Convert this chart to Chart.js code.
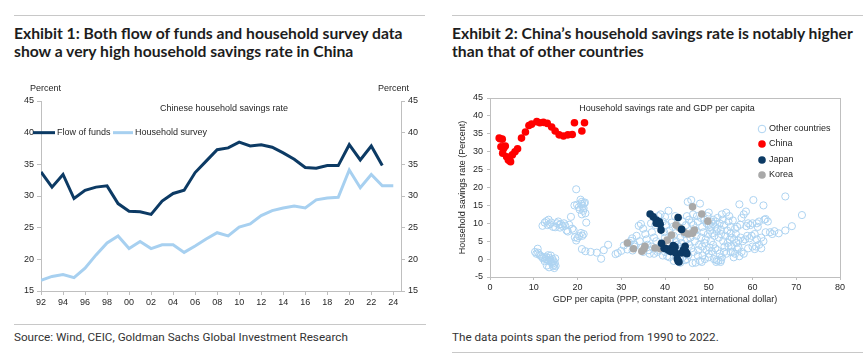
<!DOCTYPE html>
<html><head><meta charset="utf-8">
<script src="https://cdn.jsdelivr.net/npm/chart.js@4.4.1/dist/chart.umd.min.js"></script>
<style>
html,body{margin:0;padding:0;background:#fff;width:867px;height:362px;overflow:hidden;}
.rule{position:absolute;height:1px;background:#c8c8c8;}
.title{position:absolute;font-family:Lato,sans-serif;font-weight:700;font-size:15.7px;line-height:18px;color:#1d1d1d;white-space:nowrap;}
.note{position:absolute;font-family:Roboto,sans-serif;font-size:11.7px;color:#333;white-space:nowrap;}
.box{position:absolute;}
</style></head>
<body>
<div class="rule" style="left:14px;top:15px;width:411px"></div>
<div class="rule" style="left:452px;top:15px;width:411px"></div>
<div class="title" style="left:14px;top:24px">Exhibit 1: Both flow of funds and household survey data<br>show a very high household savings rate in China</div>
<div class="title" style="left:452px;top:24px">Exhibit 2: China’s household savings rate is notably higher<br>than that of other countries</div>
<div class="box" style="left:0;top:80px;width:430px;height:230px"><canvas id="c1" width="430" height="230"></canvas></div>
<div class="box" style="left:440px;top:80px;width:427px;height:230px"><canvas id="c2" width="427" height="230"></canvas></div>
<div class="rule" style="left:14px;top:324px;width:412px"></div>
<div class="note" style="left:14px;top:330px">Source: Wind, CEIC, Goldman Sachs Global Investment Research</div>
<div class="note" style="left:452px;top:330px">The data points span the period from 1990 to 2022.</div>
<div class="rule" style="left:452px;top:352px;width:411px"></div>
<script>
// ---------- Exhibit 1 data ----------
const years = [1992,1993,1994,1995,1996,1997,1998,1999,2000,2001,2002,2003,2004,2005,2006,2007,2008,2009,2010,2011,2012,2013,2014,2015,2016,2017,2018,2019,2020,2021,2022,2023,2024];
const flowOfFunds = [33.8,31.4,33.4,29.6,30.9,31.4,31.6,28.8,27.6,27.5,27.1,29.2,30.4,30.9,33.7,35.5,37.3,37.6,38.5,37.9,38.1,37.7,36.8,35.8,34.5,34.4,34.8,34.8,38.1,35.7,37.9,34.8,null];
const householdSurvey = [16.7,17.3,17.6,17.1,18.6,20.7,22.6,23.7,21.7,22.8,21.7,22.3,22.3,21.1,22.1,23.2,24.2,23.7,25.1,25.6,26.9,27.7,28.1,28.4,28.1,29.4,29.7,29.8,34.1,31.3,33.4,31.6,31.6];
const xTickYears = [1992,1994,1996,1998,2000,2002,2004,2006,2008,2010,2012,2014,2016,2018,2020,2022,2024];
const xTickLabels = ['92','94','96','98','00','02','04','06','08','10','12','14','16','18','20','22','24'];
const seriesNames1 = ['Flow of funds','Household survey'];

// ---------- Exhibit 2 data ----------
const chinaPoints = [[2.1,33.8],[2.3,33.6],[2.5,31.4],[2.8,33.5],[2.9,29.6],[3.1,30.9],[3.3,31.4],[3.5,31.6],[3.8,28.6],[4.2,27.7],[4.5,27.5],[4.7,27.2],[5.1,29.1],[5.7,30.0],[6.3,30.8],[7.2,33.8],[8.1,35.5],[8.9,37.3],[9.5,37.7],[10.7,38.4],[11.4,38.1],[12.2,38.2],[13.1,37.9],[14.1,36.9],[14.9,35.8],[15.8,34.7],[16.8,34.4],[17.8,34.7],[18.8,34.8],[19.3,38.1],[21.0,35.8],[21.6,38.1]];
const japanPoints = [[36.6,12.6],[37.3,11.8],[38.0,10.9],[38.7,10.4],[38.0,10.0],[38.9,9.7],[39.1,8.1],[43.0,11.6],[39.2,4.4],[39.8,3.0],[40.4,2.9],[40.8,2.5],[41.5,3.0],[41.9,3.8],[41.3,2.1],[42.3,3.4],[41.9,2.3],[42.5,1.6],[42.8,0.1],[43.0,-0.5],[43.2,-0.8],[43.8,1.7],[44.2,2.5],[44.6,3.6],[44.8,2.0],[45.0,1.5],[43.8,8.3]];
const koreaPoints = [[31.4,4.5],[32.8,2.9],[34.7,2.2],[35.2,2.9],[35.4,3.6],[37.7,3.1],[38.9,2.9],[39.6,3.7],[40.5,5.3],[41.5,6.7],[42.5,9.5],[43.4,8.7],[44.4,7.5],[45.3,7.0],[46.3,7.2],[46.7,8.1],[46.3,14.6],[48.4,12.6],[49.8,10.6]];
const otherPoints = [
[10.3,2.0],[10.6,1.5],[10.9,2.9],[11.0,1.8],[11.3,1.2],[11.6,0.9],[11.9,0.6],[12.1,0.2],[12.4,0.5],[12.7,0.0],[12.9,0.6],[13.1,-0.2],[13.3,1.1],[13.4,-0.5],[13.6,0.3],[13.8,-0.3],[13.9,1.0],[14.0,-0.8],[14.2,-1.3],[14.3,0.0],[14.4,-2.0],[14.5,-0.6],[14.6,-1.6],[14.7,-2.5],[14.8,-1.0],[14.9,0.2],[13.5,-2.3],[13.0,-1.8],[12.5,-0.6],[15.0,-1.9],
[12.0,9.3],[12.5,10.2],[12.9,10.6],[13.4,11.0],[13.7,9.7],[14.0,10.2],[14.4,9.0],[14.9,8.9],[15.3,10.0],[15.6,10.5],[15.9,9.6],[16.2,9.8],[16.6,9.2],[16.9,10.0],[17.2,9.3],[17.5,8.0],[17.8,7.7],[18.1,9.6],[18.5,11.8],[18.8,8.5],[19.1,8.1],[19.4,6.1],[19.7,5.2],[20.0,5.9],[20.4,6.4],[20.8,7.3],[21.1,6.5],[21.4,7.0],[16.0,8.8],[13.2,9.5],
[19.7,19.5],[19.3,15.0],[19.9,15.2],[20.3,14.5],[20.7,16.6],[21.0,16.0],[21.2,14.8],[21.5,15.6],[21.3,13.5],[21.7,15.8],[21.0,12.5],[21.8,12.8],[22.0,10.2],[20.5,13.8],[21.4,14.2],[20.9,15.4],
[21.0,2.8],[21.8,2.2],[23.0,2.0],[24.4,1.8],[25.4,0.1],[26.0,2.5],[27.0,4.0],[28.7,1.4],[29.2,1.7],[30.0,2.3],[30.6,3.8],[31.4,2.7],[32.2,5.1],[33.0,4.1],[32.6,2.4],[31.8,4.6],
[33.5,6.5],[34.0,9.3],[34.5,9.8],[35.0,8.5],[35.5,7.0],[35.8,5.5],[36.0,4.0],[36.3,2.5],[36.5,1.5],[35.0,2.0],[34.2,5.0],[37.0,7.5],[37.5,6.0],[37.0,3.5],[38.0,5.0],[38.3,2.0],[37.8,9.5],[38.5,12.0],[39.0,12.5],[36.8,10.0],[33.0,3.5],[32.5,5.8],[34.8,3.3],
[39.5,10.5],[40.0,11.8],[40.3,9.5],[40.8,13.5],[41.0,8.0],[41.5,10.2],[42.0,6.5],[42.5,5.0],[43.0,9.0],[43.5,6.0],[44.0,10.5],[44.5,7.0],[45.0,12.0],[40.0,6.0],[40.5,0.8],[41.2,5.5],[42.8,4.0],[43.8,4.5],[44.3,3.0],[45.0,5.5],[39.8,7.5],[41.8,9.0],[42.3,12.0],[43.2,3.5],[44.8,9.5],[40.6,4.2],
[45.2,16.0],[46.0,16.5],[45.5,11.0],[46.0,10.2],[46.5,9.5],[47.0,8.0],[47.5,10.5],[48.0,15.5],[48.5,9.0],[49.0,11.0],[49.5,10.0],[50.0,9.5],[45.5,4.0],[46.0,3.0],[46.5,2.0],[47.0,-1.0],[47.5,1.0],[48.0,-0.5],[48.5,3.5],[49.0,4.5],[49.5,2.5],[50.0,1.5],[45.8,6.0],[46.8,5.0],[47.2,6.5],[47.8,4.0],[48.3,6.0],[48.8,7.5],[49.3,5.5],[49.8,7.0],[46.2,7.5],[47.6,2.5],[48.6,1.0],[49.1,0.0],[50.0,0.5],[45.3,1.0],[46.4,12.5],[47.3,12.0],[48.2,11.5],[49.7,12.0],[50.0,13.0],
[50.5,10.5],[51.0,9.8],[51.5,9.0],[52.0,8.5],[52.5,10.0],[53.0,12.5],[53.5,9.5],[54.0,13.0],[54.5,10.5],[55.0,9.0],[50.3,8.0],[50.8,7.2],[51.3,6.5],[51.8,7.8],[52.3,6.0],[52.8,7.0],[53.3,5.0],[53.8,6.5],[54.3,4.5],[54.8,5.5],[50.5,5.0],[51.0,4.0],[51.5,3.0],[52.0,2.5],[52.5,1.5],[53.0,0.5],[53.5,2.0],[54.0,1.5],[54.5,3.5],[55.0,2.0],[50.2,3.2],[50.7,2.2],[51.2,0.0],[51.7,-0.8],[52.2,-0.5],[52.7,-0.8],[51.0,11.0],[52.0,11.5],[53.2,11.0],[50.4,9.0],[51.6,10.5],[52.8,8.2],[54.2,8.0],[55.0,7.2],[53.6,3.5],[54.7,12.0],
[55.5,10.8],[56.0,8.5],[56.5,9.0],[57.0,15.3],[57.5,11.5],[58.0,12.5],[58.5,13.3],[59.0,10.0],[59.5,9.5],[60.0,10.0],[55.3,6.0],[55.8,5.5],[56.3,4.5],[56.8,5.2],[57.3,6.0],[57.8,5.0],[58.3,5.5],[58.8,6.5],[59.3,5.8],[59.8,6.5],[55.5,2.0],[56.0,1.5],[56.5,2.8],[57.0,0.8],[57.5,2.0],[58.0,1.5],[59.0,3.0],[60.0,3.5],[55.2,3.5],[56.8,3.2],[58.6,9.2],[57.2,9.6],[56.2,7.0],[55.7,0.5],
[60.5,7.0],[61.0,10.0],[61.5,10.5],[62.0,6.0],[62.5,15.0],[62.7,11.0],[63.0,11.2],[63.5,10.5],[64.0,7.5],[65.0,7.8],[66.0,7.2],[67.5,17.5],[67.5,8.0],[69.0,9.2],[71.3,12.3],[60.2,16.5],[60.8,3.5],[61.5,4.0],[62.0,3.0],[61.0,5.5],[62.5,5.0],[60.5,2.8],[63.0,7.5],[64.5,7.0],[61.2,9.0],
[37.5,1.5],[38.5,2.5],[39.5,1.0],[40.0,2.0],[41.0,0.5],[42.0,-0.5],[43.5,-1.0],[44.0,0.5],[45.0,0.0],[46.3,-1.1],[48.4,-0.8],[51.8,-0.3],[52.8,-0.3],[44.6,-0.3]
];
const seriesNames2 = ['Other countries','China','Japan','Korea'];

// ---------- styles ----------
const FONT = "'Liberation Sans', Arial, sans-serif";
Chart.defaults.font.family = FONT;
Chart.defaults.font.size = 9;
Chart.defaults.color = '#262626';
const AXIS = '#bfbfbf';
const NAVY = '#0c3a64';
const LIGHT = '#a7d0f0';
const OTHER = '#add3f1';
const RED = '#ff0000';
const GRAY = '#a9a9a9';

function txt(ctx, s, x, y, align) {
  ctx.save();
  ctx.font = '9px ' + FONT;
  ctx.fillStyle = '#262626';
  ctx.textAlign = align || 'left';
  ctx.textBaseline = 'middle';
  ctx.fillText(s, x, y);
  ctx.restore();
}

// ---------- Chart 1 ----------
const c1Extras = {
  id: 'c1Extras',
  afterDraw(chart) {
    const ctx = chart.ctx, a = chart.chartArea;
    txt(ctx, 'Percent', 30, 9, 'left');
    txt(ctx, 'Percent', 409, 9, 'right');
    txt(ctx, 'Chinese household savings rate', (a.left + a.right) / 2 + 3, 29, 'center');
    const ly = chart.scales.y.getPixelForValue(40);
    const items = [[33, 55, 57], [113, 133, 135]];
    chart.data.datasets.forEach((ds, i) => {
      const [x0, x1, tx] = items[i];
      ctx.save();
      ctx.strokeStyle = ds.borderColor; ctx.lineWidth = ds.borderWidth;
      ctx.beginPath(); ctx.moveTo(x0, ly); ctx.lineTo(x1, ly); ctx.stroke();
      ctx.restore();
      txt(ctx, ds.label, tx, ly, 'left');
    });
  }
};
const yAxisCommon = {
  min: 15, max: 45,
  ticks: { stepSize: 5, padding: 3 },
  grid: { drawOnChartArea: false, tickLength: 4, color: AXIS },
  border: { color: AXIS }
};
new Chart(document.getElementById('c1'), {
  type: 'line',
  data: {
    datasets: [
      { label: seriesNames1[0], data: years.map((y, i) => ({ x: y, y: flowOfFunds[i] })), borderColor: NAVY, borderWidth: 3, pointRadius: 0, tension: 0, spanGaps: false },
      { label: seriesNames1[1], data: years.map((y, i) => ({ x: y, y: householdSurvey[i] })), borderColor: LIGHT, borderWidth: 3, pointRadius: 0, tension: 0 }
    ]
  },
  options: {
    responsive: false, animation: false, devicePixelRatio: 1,
    layout: { padding: { top: 21, left: 0, right: 0, bottom: 0 } },
    plugins: { legend: { display: false }, tooltip: { enabled: false } },
    scales: {
      x: {
        type: 'linear', min: 1992, max: 2024.7,
        afterBuildTicks: ax => { ax.ticks = xTickYears.map(v => ({ value: v })); },
        ticks: { autoSkip: false, maxRotation: 0, padding: 2, callback: v => xTickLabels[xTickYears.indexOf(v)] },
        grid: { drawOnChartArea: false, tickLength: 4, color: AXIS },
        border: { color: AXIS },
        afterFit: s => { s.height = 19; }
      },
      y: Object.assign({ position: 'left', afterFit: s => { s.width = 41; } }, yAxisCommon),
      y2: Object.assign({ position: 'right', afterFit: s => { s.width = 29; } }, yAxisCommon)
    }
  },
  plugins: [c1Extras]
});

// ---------- Chart 2 ----------
const c2Extras = {
  id: 'c2Extras',
  beforeDatasetsDraw(chart) {
    const ctx = chart.ctx, a = chart.chartArea;
    ctx.save();
    ctx.strokeStyle = AXIS; ctx.lineWidth = 1;
    ctx.strokeRect(Math.round(a.left) + 0.5, Math.round(a.top) + 0.5, Math.round(a.right - a.left), Math.round(a.bottom - a.top));
    ctx.restore();
  },
  afterDraw(chart) {
    const ctx = chart.ctx, a = chart.chartArea;
    txt(ctx, 'Household savings rate and GDP per capita', (a.left + a.right) / 2 + 2, 29, 'center');
    const rows = [49, 64, 80, 95];
    chart.data.datasets.forEach((ds, i) => {
      ctx.save();
      ctx.beginPath(); ctx.arc(322, rows[i], 3.8, 0, Math.PI * 2);
      if (i === 0) { ctx.strokeStyle = ds.borderColor; ctx.lineWidth = 1; ctx.stroke(); }
      else { ctx.fillStyle = ds.backgroundColor; ctx.fill(); }
      ctx.restore();
      txt(ctx, ds.label, 329, rows[i], 'left');
    });
  }
};
const toXY = p => ({ x: p[0], y: p[1] });
new Chart(document.getElementById('c2'), {
  type: 'scatter',
  data: {
    datasets: [
      { label: seriesNames2[0], data: otherPoints.map(toXY), borderColor: OTHER, backgroundColor: 'rgba(0,0,0,0)', borderWidth: 1, pointRadius: 3.6, order: 4 },
      { label: seriesNames2[1], data: chinaPoints.map(toXY), borderColor: RED, backgroundColor: RED, borderWidth: 0, pointRadius: 3.8, order: 1 },
      { label: seriesNames2[2], data: japanPoints.map(toXY), borderColor: NAVY, backgroundColor: NAVY, borderWidth: 0, pointRadius: 3.8, order: 2 },
      { label: seriesNames2[3], data: koreaPoints.map(toXY), borderColor: GRAY, backgroundColor: GRAY, borderWidth: 0, pointRadius: 3.8, order: 3 }
    ]
  },
  options: {
    responsive: false, animation: false, devicePixelRatio: 1,
    layout: { padding: { top: 18, left: 0, right: 27, bottom: 0 } },
    plugins: { legend: { display: false }, tooltip: { enabled: false } },
    scales: {
      x: {
        type: 'linear', min: 0, max: 80,
        ticks: { stepSize: 10, padding: 2, maxRotation: 0 },
        grid: { drawOnChartArea: false, tickLength: 3, color: AXIS },
        border: { color: AXIS },
        title: { display: true, text: 'GDP per capita (PPP, constant 2021 international dollar)', padding: { top: 0, bottom: 5 }, font: { size: 9 } },
        afterFit: s => { s.height = 33; }
      },
      y: {
        type: 'linear', min: -5, max: 45,
        ticks: { stepSize: 5, padding: 4 },
        grid: { drawOnChartArea: false, tickLength: 3, color: AXIS },
        border: { color: AXIS },
        title: { display: true, text: 'Household savings rate (Percent)', padding: { top: 17, bottom: 0 }, font: { size: 9 } },
        afterFit: s => { s.width = 50; }
      }
    }
  },
  plugins: [c2Extras]
});
</script>
</body></html>
